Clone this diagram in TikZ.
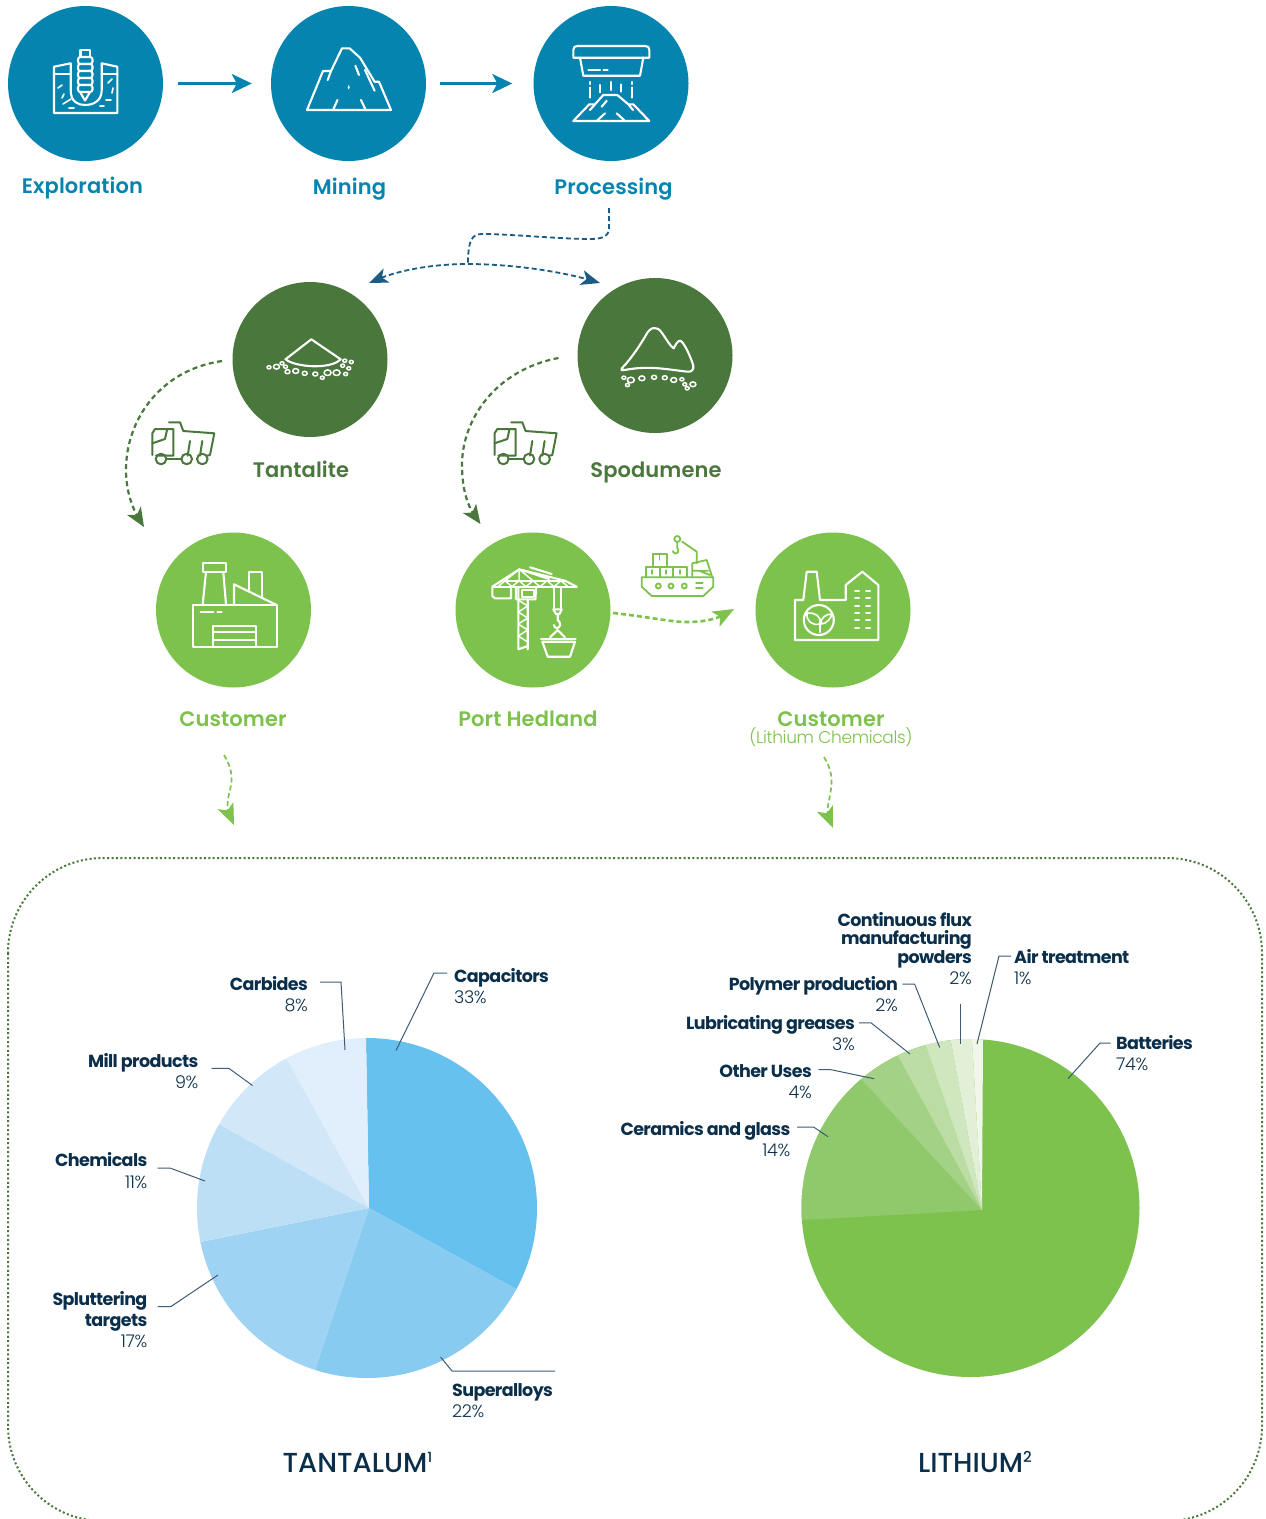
\documentclass[tikz,border=0pt]{standalone}
\usepackage{fontspec}
\setmainfont{Poppins}[UprightFont=* Medium,BoldFont=* SemiBold]
\newfontfamily\lightf{Poppins}[UprightFont=* Light,LetterSpace=-2]
\newfontfamily\semif{Poppins}[UprightFont=* Bold,LetterSpace=-3.5]
\newfontfamily\stagef{Poppins}[UprightFont=* SemiBold,LetterSpace=0.5]
\newfontfamily\headf{Poppins}[UprightFont=* Medium]
\usetikzlibrary{arrows.meta,bending,calc}
\definecolor{teal}{HTML}{0484AF}
\definecolor{dgreen}{HTML}{4A773C}
\definecolor{lgreen}{HTML}{7DC24D}
\definecolor{navy}{HTML}{0B2F4A}
\definecolor{dblue}{HTML}{1A5C85}
\definecolor{leadc}{HTML}{3F5A75}
\definecolor{ta}{HTML}{67C1EE}
\definecolor{tb}{HTML}{88CBF0}
\definecolor{tc}{HTML}{9FD3F3}
\definecolor{td}{HTML}{BCDFF6}
\definecolor{te}{HTML}{D2E8F9}
\definecolor{tf}{HTML}{E0EFFB}
\definecolor{la}{HTML}{90C96C}
\definecolor{lb}{HTML}{A3D185}
\definecolor{lc}{HTML}{BBDDA3}
\definecolor{ld}{HTML}{D0E6BE}
\definecolor{le}{HTML}{E2F0D8}
\definecolor{lf}{HTML}{F0F7EA}
\tikzset{
  x=1pt,y=-1pt,
  stage/.style={circle,minimum size=155pt,inner sep=0pt,fill=#1},
  stagelab/.style={font=\stagef\fontsize{21}{24}\selectfont,text=#1,inner sep=0pt,anchor=base},
  iw/.style={draw=white,line width=2.1pt,line join=round,line cap=round},
  idg/.style={draw=dgreen,line width=2pt,line join=round,line cap=round},
  ilg/.style={draw=lgreen,line width=1.8pt,line join=round,line cap=round},
  flow/.style={draw=teal,line width=2.4pt,-{Stealth[length=20pt,width=19pt,inset=5pt]}},
  bluedash/.style={draw=dblue,line width=1.8pt,dash pattern=on 5pt off 3pt},
  bluetip/.style={bluedash,{Stealth[length=19pt,width=15pt,inset=5pt,flex]}-{Stealth[length=19pt,width=15pt,inset=5pt,flex]}},
  dgdash/.style={draw=dgreen,line width=2.2pt,dash pattern=on 5pt off 3.5pt,-{Stealth[length=19pt,width=16pt,inset=5pt,flex]}},
  lgdash/.style={draw=lgreen,line width=2.6pt,dash pattern=on 5pt off 3pt,-{Stealth[length=21pt,width=17pt,inset=5pt,flex]}},
  lgthin/.style={draw=lgreen,line width=1.7pt,dash pattern=on 5pt off 3pt,-{Stealth[length=21pt,width=17pt,inset=5pt,flex]}},
  frame/.style={draw=dgreen,line width=2pt,dash pattern=on 2pt off 2.4pt,rounded corners=95pt},
  nm/.style={font=\semif\fontsize{17.5}{20}\selectfont,text=navy,inner sep=0pt},
  pc/.style={font=\lightf\fontsize{17.5}{20}\selectfont,text=navy,inner sep=0pt},
  ttl/.style={font=\headf\fontsize{27.5}{30}\selectfont,text=navy,inner sep=0pt,anchor=base west},
  leader/.style={draw=leadc,line width=1pt},
}
\newcommand{\peb}[3]{\draw[iw,line width=1.5pt] (#1,#2) ellipse [x radius=#3,y radius=#3*0.8];}
\newcommand{\truckicon}{%
  \draw[idg] (152.3,455)--(152.3,433.3)--(155,429)--(173.3,429)--(173.3,455.7)--(156,455.7);
  \draw[idg] (152.3,443.3)--(165,439)--(167,430);
  \draw[idg] (169,422.3)--(180,422.3)--(183.3,431)--(214.3,433.3)--(210,455)--(207,455.7);
  \draw[idg] (190,441)--(187.7,455.7);
  \draw[idg] (202.3,441)--(200,455.7);
  \foreach \wx in {161,186.7,202.3}{\draw[idg] (\wx,459) circle [radius=5.3];}
  \draw[idg] (166,458.5)--(181.4,458.5);
}
\begin{document}
\begin{tikzpicture}
\useasboundingbox (0,0) rectangle (1266,1519);
% stages
\node[stage=teal] (expl) at (85.5,83.5) {};
\node[stage=teal] (mine) at (348.5,83.5) {};
\node[stage=teal] (proc) at (611,83.5) {};
\node[stage=dgreen] (tant) at (310,359.5) {};
\node[stage=dgreen] (spod) at (655,355.5) {};
\node[stage=lgreen] (cust) at (233.5,610) {};
\node[stage=lgreen] (port) at (533,610) {};
\node[stage=lgreen] (lich) at (833,610) {};
% labels
\node[stagelab=teal] (lexpl) at (82.5,193) {Exploration};
\node[stagelab=teal] (lmine) at (349.5,194) {Mining};
\node[stagelab=teal] (lproc) at (613.5,194) {Processing};
\node[stagelab=dgreen] (ltant) at (301,477) {Tantalite};
\node[stagelab=dgreen] (lspod) at (656,477) {Spodumene};
\node[stagelab=lgreen] (lcust) at (233,726) {Customer};
\node[stagelab=lgreen] (lport) at (528,726) {Port Hedland};
\node[stagelab=lgreen] (llich) at (831,726) {Customer};
\node[font=\lightf\fontsize{17}{18}\selectfont,text=lgreen,inner sep=0pt,anchor=base] (llich2) at (831,743) {(Lithium Chemicals)};
% flows
\draw[flow,shorten <=15pt,shorten >=19pt] (expl.east) -- (mine.west);
\draw[flow,shorten <=14pt,shorten >=21pt] (mine.east) -- (proc.west);
% branch
\coordinate (branch) at (468,264);
\coordinate (tipL) at (369,283);
\coordinate (tipR) at (600,283);
\coordinate (procOut) at (609,208);
\draw[bluedash] (procOut) -- (609,228) .. controls (609,236) and (603,239) .. (590,239) .. controls (560,239) and (510,234) .. (482,234) .. controls (472,234) and (468,240) .. (branch);
\draw[bluetip] (tipL) .. controls (400,268) and (440,264) .. (branch) .. controls (505,264) and (560,270) .. (tipR);
% green curves
\coordinate (tantOut) at (222,361);
\coordinate (custIn) at (144,527);
\draw[dgdash] (tantOut) .. controls (160,370) and (126,420) .. (126,470) .. controls (126,492) and (133,512) .. (custIn);
\coordinate (spodOut) at (558.5,358);
\coordinate (portIn) at (480.5,524);
\draw[dgdash] (spodOut) .. controls (495,370) and (462,420) .. (462,465) .. controls (462,490) and (468,510) .. (portIn);
\coordinate (portOut) at (613,613);
\coordinate (lichIn) at (734,609);
\draw[lgdash] (portOut) .. controls (650,617) and (670,622) .. (687,622) .. controls (705,622) and (720,619) .. (lichIn);
\coordinate (custOut) at (224,755);
\coordinate (custEnd) at (234,825);
\draw[lgthin] (custOut) .. controls (232,768) and (233,778) .. (230,790) .. controls (227,802) and (225,812) .. (custEnd);
\coordinate (lichOut) at (824,757);
\coordinate (lichEnd) at (833,828);
\draw[lgthin] (lichOut) .. controls (832,770) and (833,780) .. (830,795) .. controls (828,808) and (824,815) .. (lichEnd);
% frame
\draw[frame] (8,858) rectangle (1262,1521);

% exploration icon
\draw[iw] (54,113)--(54,66.7)--(70.7,63.3)--(70.7,90) .. controls (70.7,102) and (78,105) .. (85,105) .. controls (92,105) and (101.7,102) .. (101.7,90)--(101.7,63.3)--(117.3,66.7)--(117.3,113)--cycle;
\draw[iw] (54,74)--(70.7,74) (101.7,74)--(117.3,74);
\draw[iw] (80.5,50)rectangle(90,57);
\foreach \yy in {57,64,71,78,85}{\draw[iw,rounded corners=2.5pt,fill=teal] (78,\yy) rectangle (92.5,\yy+7);}
\draw[iw] (80,92)--(85,100.5)--(90,92);
\foreach \a/\b/\c/\d in {58/88/62/85,71/99/63/104,62/98/64/94,108/83/112/79,113/88/112/93,106/100/111/100,69/108/74/108,100/106/104/106}{\draw[iw,line width=1.6pt] (\a,\b)--(\c,\d);}
% mining icon
\draw[iw] (307,110)--(323,71)--(331,71)--(342,48.3)--(349.6,48.3)--(360,57.7)--(374.6,81.7)--(379,81.7)--(391,110)--cycle;
\draw[iw] (331,71)--(327.7,80) (355.4,65.7)--(359,75) (365,70)--(374.6,90.7) (337.5,100)--(333,110) (361,100)--(365.7,110);
\draw[white,fill=white] (348.7,85.5)--(349.4,87.3)--(348.7,89)--(348,87.3)--cycle;
% processing icon
\draw[iw] (573.3,57.7)--(573.3,50) .. controls (573.3,47) and (575,46) .. (577.5,46)--(645,46) .. controls (648,46) and (649.3,47) .. (649.3,50)--(649.3,57.7)--cycle;
\draw[iw] (580,57.7)--(583.3,75.7)--(640,75.7)--(643.3,57.7);
\draw[iw] (588.3,69.7)--(600,69.7) (603.3,69.7)--(607.7,69.7);
\draw[iw] (590,82)--(590,84) (590,87.3)--(590,97.7) (600,85)--(600,92.3) (610.7,82)--(610.7,90) (621.3,84.3)--(621.3,91.7) (632,82)--(632,84) (632,87.3)--(632,97.7);
\draw[iw] (573.3,121)--(589.3,104.3)--(595,104.3)--(603.3,95)--(617.3,95)--(628.3,104.3)--(633.3,104.3)--(649.3,121)--cycle;
\draw[iw] (601.7,106.7)--(606.7,100.7) (596.7,121)--(605,113.3) (616.7,113.3)--(625,121) (595,104.3)--(590,110) (628.3,104.3)--(633,110);
% tantalite icon
\draw[iw] (311.3,339.3)--(285.5,359.3) .. controls (295,367) and (330,370) .. (340.7,359.3)--cycle;
\foreach \a/\b/\c in {269/367.3/2,276.5/366.7/3,282/363.3/2,285.5/366.7/2,287.5/371.7/2.5,295.7/371/3,304.7/373.3/2.5,315.3/374/2.5,322.3/377.7/2,327.6/372.7/3.5,336.6/372.7/3.5,345.6/374/2,348.8/368.3/2,342.7/365.7/2,344.8/360.7/2,351.3/362/2}{\peb{\a}{\b}{\c}}
% spodumene icon
\draw[iw] (621.8,368.3) .. controls (632,358) and (642,342) .. (646,335) .. controls (650,327) and (657,325) .. (662,333) .. controls (667,340) and (670,346) .. (673.7,348.3) .. controls (675,346) and (678,339) .. (681,341) .. controls (685,344) and (692,360) .. (693.3,366) .. controls (694,370) and (691,372) .. (688,371.7) .. controls (670,370) and (650,365) .. (624.7,370) .. controls (622,370.5) and (620,370) .. (621.8,368.3) -- cycle;
\foreach \a/\b/\c in {623.9/377.7/2,630.8/380/3.5,641.9/378.3/3,654.1/377.3/2.5,664.8/377.7/2.5,673.7/380/3,681.9/379.3/2,684.8/384.3/2,692.9/384.3/3,687.2/388.3/2,627.5/385/2}{\peb{\a}{\b}{\c}}
% trucks
\truckicon
\begin{scope}[shift={(342.3,0)}]\truckicon\end{scope}
% factory icon
\draw[iw] (192.7,605) rectangle (276.7,646.7);
\draw[iw] (202.7,604.3)--(206,572.3) (223.3,572.3)--(226,604.3);
\draw[iw] (202.7,563.3) rectangle (226,572.3);
\draw[iw] (234,604.3)--(234,584.3)--(276.7,605);
\draw[iw] (249,590)--(249,572.3)--(261.7,572.3)--(261.7,596.7);
\draw[iw] (200.7,611.7)--(213.3,611.7) (217.3,611.7)--(221.7,611.7);
\draw[iw] (213.3,646.7)--(213.3,625.7)--(256,625.7)--(256,646.7);
\draw[iw] (213.3,632.3)--(256,632.3) (213.3,640)--(256,640);
% crane icon
\draw[iw] (492.3,586.7)--(576.7,586.7);
\draw[iw] (492.3,586.7)--(519.3,569.3)--(565,580.7)--(576.7,586.7);
\draw[iw] (505,580.7)--(565,580.7);
\draw[iw,line width=1.5pt] (498,586.7)--(505,580.7)--(512,586.7)--(519,580.7)--(526,586.7)--(533,580.7)--(540,586.7)--(547,580.7)--(554,586.7)--(561,580.7)--(568,586.7);
\draw[iw,line width=1.5pt] (505,580.7)--(519.3,569.3)--(519,580.7) (519.3,569.3)--(533,580.7);
\draw[iw] (518.3,586.7)--(518.3,649.3)--(527.7,646) (527.7,599.3)--(527.7,649.3);
\draw[iw,line width=1.5pt] (518.3,600)--(527.7,606)--(518.3,612)--(527.7,618)--(518.3,624)--(527.7,630)--(518.3,636)--(527.7,642);
\draw[iw] (522,590)rectangle(534,597);
\draw[iw] (516,586.7)--(516,599.3)--(535.5,599.3)--(536,586.7);
\draw[iw] (492.3,588.3)--(492.3,596)--(495,598.3)--(511,598.3)--(511,588.3);
\draw[iw] (530,567.3)--(551.7,574) (522,570)--(549,579);
\draw[iw] (554,588)--(554,608) (561,588)--(561,608);
\draw[iw] (553.3,609.3)--(561.7,609.3)--(559.5,614)--(556,614)--cycle;
\draw[iw] (557.7,614)--(557.7,620) .. controls (561,622) and (561,628) .. (557,628) .. controls (555,628) and (554,627) .. (554,625);
\draw[iw] (557.7,630)--(550,637.3) (557.7,630)--(565,637.3);
\draw[iw] (541,639.3)--(575.7,639.3);
\draw[iw] (542.3,641.7)--(547.7,656.7)--(570,656.7)--(575,641.7)--cycle;
% ship icon
\draw[ilg] (641.7,577.3)--(713.3,577.3)--(713.3,586.7)--(703.3,596)--(651.7,596)--(641.7,586.7)--cycle;
\draw[ilg] (645.7,577.3)--(645.7,566.7)--(686.7,566.7)--(686.7,577.3) (660,566.7)--(660,577.3) (673.3,566.7)--(673.3,577.3);
\draw[ilg] (652.7,566.7)--(652.7,554)--(666.7,554)--(666.7,566.7);
\draw[ilg,line width=1.2pt] (659.7,554)--(659.7,560) (652,570)--(652,574) (666,570)--(666,574) (680,570)--(680,574);
\draw[ilg] (692.3,577.3)--(692.3,563.3)--(706.7,560)--(712.3,577.3) (692.3,570.7)--(708,570.7) (699,570.7)--(710,575);
\draw[ilg] (696.7,563.3)--(696.7,551.7)--(682,541.5);
\draw[ilg] (677.3,539) circle [radius=3];
\draw[ilg] (677.3,542)--(677.3,548) .. controls (680,551) and (677,554) .. (675,553.5) .. controls (673.5,553) and (673,552) .. (673,551);
\foreach \a in {658.3,671,684.3}{\draw[ilg] (\a,586) circle [radius=2.5];}
\draw[ilg] (696,583.3)--(702.7,583.3) (696,588.3)--(702.7,588.3);
% green factory icon
\draw[iw] (795,640)--(795,600)--(803.3,600)--(806.7,571.7)--(816.7,571.7)--(820,600)--(845.7,600)--(845.7,585)--(862.3,571.7)--(878.3,585)--(878.3,640)--cycle;
\draw[iw] (818.8,620) circle [radius=15];
\draw[iw] (820,620)--(820,632);
\draw[iw,line width=1.6pt] (820,624) .. controls (812,626) and (806,621) .. (807,613) .. controls (814,612) and (822,616) .. (820,624);
\draw[iw,line width=1.6pt] (821,624) .. controls (826,624) and (832,618) .. (831.5,614) .. controls (826,614) and (820,618) .. (821,624);
\foreach \yy in {590.7,598.3,605.7,612.7,620,627.7}{\draw[iw,line width=2pt] (855,\yy)--(859,\yy) (866,\yy)--(870,\yy);}

% tantalum pie
\coordinate (tcen) at (369,1208);
\coordinate (t1) at (366,1039);
\coordinate (t2) at (516,1289);
\coordinate (t3) at (315,1370);
\coordinate (t4) at (200,1242);
\coordinate (t5) at (219,1124);
\coordinate (t6) at (287,1059);
\begin{scope}
\clip (367,1208) circle [radius=170];
\fill[ta] (tcen) -- ($(tcen)!3!(t1)$) -- ($(tcen)!3!(t2)$) -- cycle;
\fill[tb] (tcen) -- ($(tcen)!3!(t2)$) -- ($(tcen)!3!(t3)$) -- cycle;
\fill[tc] (tcen) -- ($(tcen)!3!(t3)$) -- ($(tcen)!3!(t4)$) -- cycle;
\fill[td] (tcen) -- ($(tcen)!3!(t4)$) -- ($(tcen)!3!(t5)$) -- cycle;
\fill[te] (tcen) -- ($(tcen)!3!(t5)$) -- ($(tcen)!3!(t6)$) -- cycle;
\fill[tf] (tcen) -- ($(tcen)!3!(t6)$) -- ($(tcen)!3!(t1)$) -- cycle;
\end{scope}
% lithium pie
\coordinate (lcen) at (982,1210);
\coordinate (b1) at (803,1220);
\coordinate (b2) at (861,1079);
\coordinate (b3) at (898,1056);
\coordinate (b4) at (926,1046);
\coordinate (b5) at (951,1042);
\coordinate (b6) at (972,1040);
\coordinate (b7) at (983,1039);
\fill[lgreen] (970.5,1208) circle [radius=169];
\begin{scope}
\clip (970.5,1208) circle [radius=169];
\fill[la] (lcen) -- ($(lcen)!3!(b1)$) -- ($(lcen)!3!(b2)$) -- cycle;
\fill[lb] (lcen) -- ($(lcen)!3!(b2)$) -- ($(lcen)!3!(b3)$) -- cycle;
\fill[lc] (lcen) -- ($(lcen)!3!(b3)$) -- ($(lcen)!3!(b4)$) -- cycle;
\fill[ld] (lcen) -- ($(lcen)!3!(b4)$) -- ($(lcen)!3!(b5)$) -- cycle;
\fill[le] (lcen) -- ($(lcen)!3!(b5)$) -- ($(lcen)!3!(b6)$) -- cycle;
\fill[lf] (lcen) -- ($(lcen)!3!(b6)$) -- ($(lcen)!3!(b7)$) -- cycle;
\end{scope}
% tantalum labels
\node[nm,anchor=base west] (capN) at (454,982) {Capacitors};
\node[pc,anchor=base west] (capP) at (454,1003) {33\%};
\node[nm,anchor=base east] (carN) at (308,990.5) {Carbides};
\node[pc,anchor=base east] (carP) at (308,1011) {8\%};
\node[nm,anchor=base east] (milN) at (198.5,1067.5) {Mill products};
\node[pc,anchor=base east] (milP) at (198.5,1088) {9\%};
\node[nm,anchor=base east] (cheN) at (147.5,1166.5) {Chemicals};
\node[pc,anchor=base east] (cheP) at (147.5,1188) {11\%};
\node[nm,anchor=base east] (splA) at (147.5,1305.5) {Spluttering};
\node[nm,anchor=base east] (splB) at (147.5,1326.5) {targets};
\node[pc,anchor=base east] (splP) at (147.5,1347) {17\%};
\node[nm,anchor=base west] (supN) at (452,1396) {Superalloys};
\node[pc,anchor=base west] (supP) at (452,1417) {22\%};
\node[ttl] (ttan) at (282.5,1472) {TANTALUM\raisebox{10pt}{\fontsize{14}{14}\selectfont 1}};
% lithium labels
\node[nm,anchor=base east] (conA) at (972,926) {Continuous flux};
\node[nm,anchor=base east] (conB) at (972,944) {manufacturing};
\node[nm,anchor=base east] (conC) at (972,963) {powders};
\node[pc,anchor=base east] (conP) at (972,984) {2\%};
\node[nm,anchor=base west] (airN) at (1014,963) {Air treatment};
\node[pc,anchor=base west] (airP) at (1014,984) {1\%};
\node[nm,anchor=base east] (polN) at (898,990) {Polymer production};
\node[pc,anchor=base east] (polP) at (898,1011) {2\%};
\node[nm,anchor=base east] (lubN) at (855,1029) {Lubricating greases};
\node[pc,anchor=base east] (lubP) at (855,1050) {3\%};
\node[nm,anchor=base east] (othN) at (812,1077) {Other Uses};
\node[pc,anchor=base east] (othP) at (812,1098) {4\%};
\node[nm,anchor=base east] (cerN) at (790.5,1135) {Ceramics and glass};
\node[pc,anchor=base east] (cerP) at (790.5,1156) {14\%};
\node[nm,anchor=base west] (batN) at (1116,1049) {Batteries};
\node[pc,anchor=base west] (batP) at (1116,1070) {74\%};
\node[ttl] (tlit) at (918,1472) {LITHIUM\raisebox{10pt}{\fontsize{15}{15}\selectfont 2}};
% leaders
\foreach \nm/\ax/\ay/\bx/\by/\cx/\cy in {
  capL/447/973/434/973/396/1050.5,
  carL/320/982/341/982/345/1050,
  milL/211.5/1068.4/229/1068.4/252.5/1085.5,
  cheL/157.5/1168/170/1168/205/1181,
  splL/157.5/1306.5/171/1306.5/218/1275,
  supL/555/1371/452/1371/440.6/1357,
  batL/1110.6/1043/1100/1043/1068/1078.7,
  airL/1011/956/999/956/977/1044,
  polL/902.4/984/914.6/984/939.7/1047.5,
  lubL/859/1022.8/871/1022.8/910/1054,
  othL/818.6/1069.7/831/1069.7/874/1078.7,
  cerL/797/1127/813.6/1127/828/1136.7}{
  \coordinate (\nm a) at (\ax,\ay);
  \coordinate (\nm b) at (\bx,\by);
  \coordinate (\nm c) at (\cx,\cy);
  \draw[leader] (\nm a) -- (\nm b) -- (\nm c);
}
\coordinate (conLa) at (960,1004.4);
\coordinate (conLb) at (960,1044);
\draw[leader] (conLa) -- (conLb);
\end{tikzpicture}
\end{document}
